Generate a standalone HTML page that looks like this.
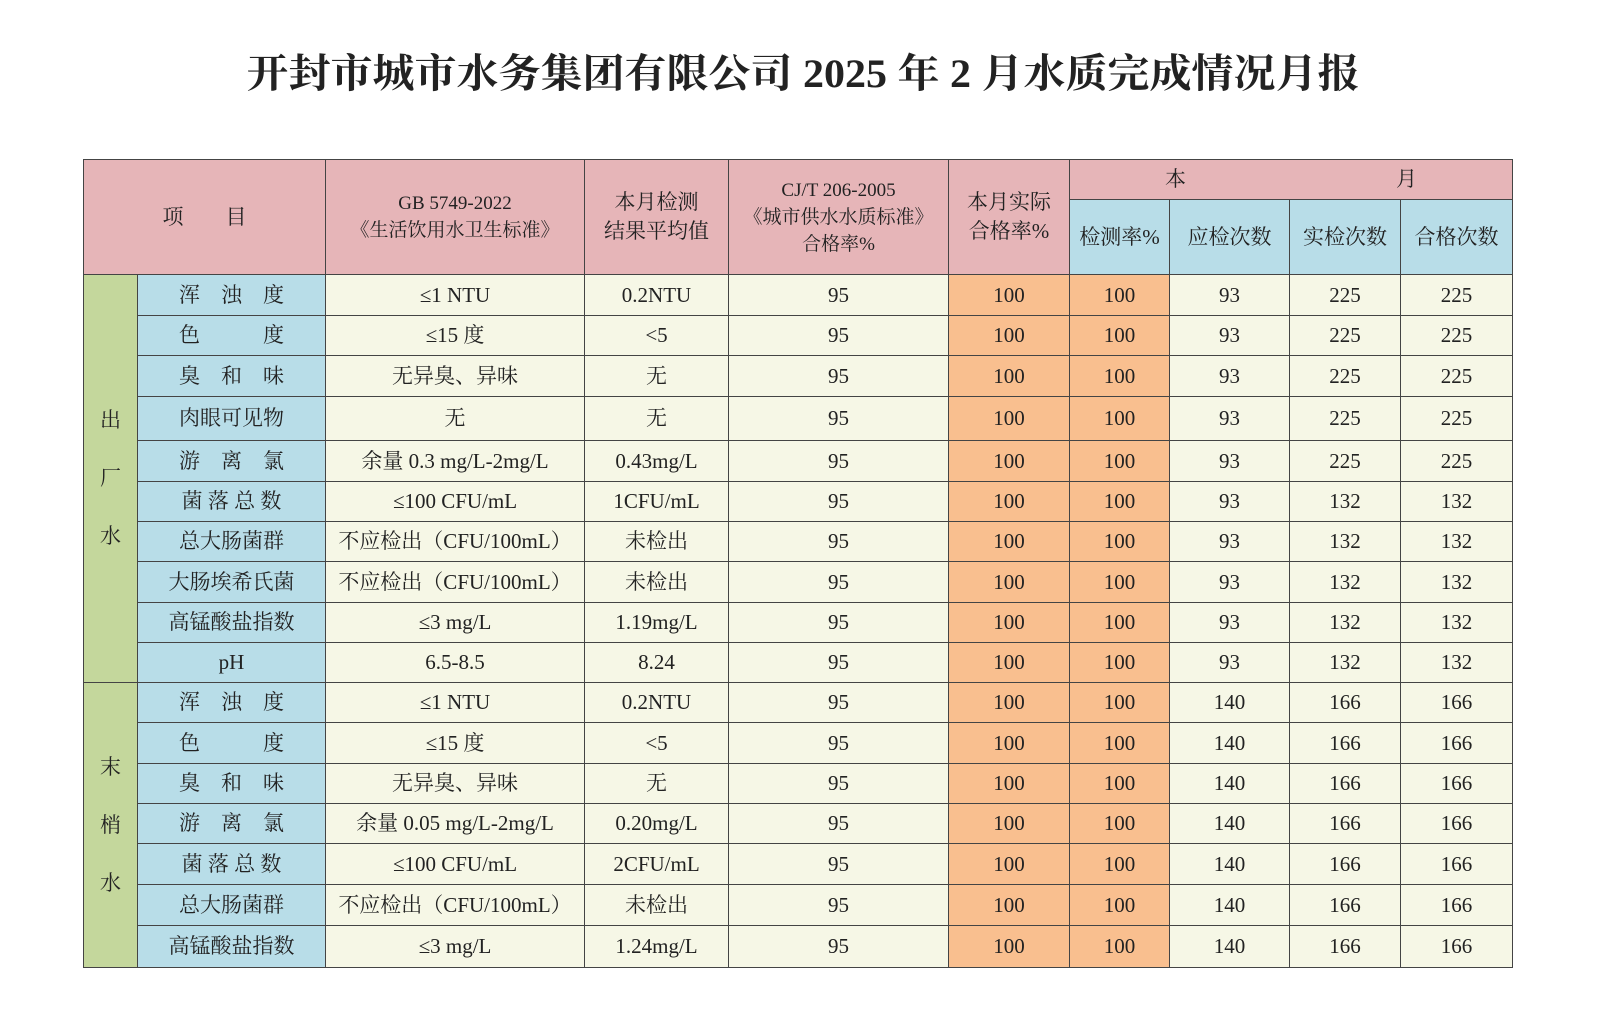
<!DOCTYPE html>
<html><head><meta charset="utf-8"><style>
body{margin:0;width:1600px;height:1020px;background:#fff;position:relative;font-family:"Liberation Serif","Noto Serif CJK SC","Noto Sans CJK SC",serif;color:#222;overflow:hidden}
h1{position:absolute;top:46px;left:0;width:1606px;text-align:center;margin:0;font-size:40px;font-weight:bold;line-height:56px;transform:scaleX(1.05);transform-origin:803px 0}
table{position:absolute;left:83px;top:159px;border-collapse:collapse;table-layout:fixed;width:1429px}
td{border:1px solid #444;text-align:center;font-size:21px;padding:0;line-height:25px;background:#f6f7e6}
.p{background:#e6b5b8}.b{background:#b8dde8}.g{background:#c4d79c;line-height:29px}.o{background:#f9bf8f}
.h{font-size:21px;line-height:29px}
.s{font-size:19px;line-height:27px}
</style></head><body>
<h1>开封市城市水务集团有限公司 2025 年 2 月水质完成情况月报</h1>
<table>
<colgroup><col style="width:54px"><col style="width:188px"><col style="width:259px"><col style="width:144px"><col style="width:220px"><col style="width:121px"><col style="width:100px"><col style="width:120px"><col style="width:111px"><col style="width:112px"></colgroup>
<tr style="height:40px"><td class="p" colspan="2" rowspan="2">项&emsp;&emsp;目</td><td class="p s" rowspan="2">GB 5749-2022<br>《生活饮用水卫生标准》</td><td class="p h" rowspan="2">本月检测<br>结果平均值</td><td class="p s" rowspan="2">CJ/T 206-2005<br>《城市供水水质标准》<br>合格率%</td><td class="p h" rowspan="2">本月实际<br>合格率%</td><td class="p" colspan="4">本&emsp;&emsp;&emsp;&emsp;&emsp;&emsp;&emsp;&emsp;&emsp;&emsp;月</td></tr>
<tr style="height:75px"><td class="b">检测率%</td><td class="b">应检次数</td><td class="b">实检次数</td><td class="b">合格次数</td></tr>
<tr style="height:41px"><td class="g" rowspan="10">出<br><br>厂<br><br>水</td><td class="b">浑&emsp;浊&emsp;度</td><td>≤1 NTU</td><td>0.2NTU</td><td>95</td><td class="o">100</td><td class="o">100</td><td>93</td><td>225</td><td>225</td></tr>
<tr style="height:40px"><td class="b">色&emsp;&emsp;&emsp;度</td><td>≤15 度</td><td>&lt;5</td><td>95</td><td class="o">100</td><td class="o">100</td><td>93</td><td>225</td><td>225</td></tr>
<tr style="height:41px"><td class="b">臭&emsp;和&emsp;味</td><td>无异臭、异味</td><td>无</td><td>95</td><td class="o">100</td><td class="o">100</td><td>93</td><td>225</td><td>225</td></tr>
<tr style="height:44px"><td class="b">肉眼可见物</td><td>无</td><td>无</td><td>95</td><td class="o">100</td><td class="o">100</td><td>93</td><td>225</td><td>225</td></tr>
<tr style="height:41px"><td class="b">游&emsp;离&emsp;氯</td><td>余量 0.3 mg/L-2mg/L</td><td>0.43mg/L</td><td>95</td><td class="o">100</td><td class="o">100</td><td>93</td><td>225</td><td>225</td></tr>
<tr style="height:40px"><td class="b">菌 落 总 数</td><td>≤100 CFU/mL</td><td>1CFU/mL</td><td>95</td><td class="o">100</td><td class="o">100</td><td>93</td><td>132</td><td>132</td></tr>
<tr style="height:40px"><td class="b">总大肠菌群</td><td>不应检出（CFU/100mL）</td><td>未检出</td><td>95</td><td class="o">100</td><td class="o">100</td><td>93</td><td>132</td><td>132</td></tr>
<tr style="height:41px"><td class="b">大肠埃希氏菌</td><td>不应检出（CFU/100mL）</td><td>未检出</td><td>95</td><td class="o">100</td><td class="o">100</td><td>93</td><td>132</td><td>132</td></tr>
<tr style="height:40px"><td class="b">高锰酸盐指数</td><td>≤3 mg/L</td><td>1.19mg/L</td><td>95</td><td class="o">100</td><td class="o">100</td><td>93</td><td>132</td><td>132</td></tr>
<tr style="height:40px"><td class="b">pH</td><td>6.5-8.5</td><td>8.24</td><td>95</td><td class="o">100</td><td class="o">100</td><td>93</td><td>132</td><td>132</td></tr>
<tr style="height:40px"><td class="g" rowspan="7">末<br><br>梢<br><br>水</td><td class="b">浑&emsp;浊&emsp;度</td><td>≤1 NTU</td><td>0.2NTU</td><td>95</td><td class="o">100</td><td class="o">100</td><td>140</td><td>166</td><td>166</td></tr>
<tr style="height:41px"><td class="b">色&emsp;&emsp;&emsp;度</td><td>≤15 度</td><td>&lt;5</td><td>95</td><td class="o">100</td><td class="o">100</td><td>140</td><td>166</td><td>166</td></tr>
<tr style="height:40px"><td class="b">臭&emsp;和&emsp;味</td><td>无异臭、异味</td><td>无</td><td>95</td><td class="o">100</td><td class="o">100</td><td>140</td><td>166</td><td>166</td></tr>
<tr style="height:40px"><td class="b">游&emsp;离&emsp;氯</td><td>余量 0.05 mg/L-2mg/L</td><td>0.20mg/L</td><td>95</td><td class="o">100</td><td class="o">100</td><td>140</td><td>166</td><td>166</td></tr>
<tr style="height:41px"><td class="b">菌 落 总 数</td><td>≤100 CFU/mL</td><td>2CFU/mL</td><td>95</td><td class="o">100</td><td class="o">100</td><td>140</td><td>166</td><td>166</td></tr>
<tr style="height:41px"><td class="b">总大肠菌群</td><td>不应检出（CFU/100mL）</td><td>未检出</td><td>95</td><td class="o">100</td><td class="o">100</td><td>140</td><td>166</td><td>166</td></tr>
<tr style="height:42px"><td class="b">高锰酸盐指数</td><td>≤3 mg/L</td><td>1.24mg/L</td><td>95</td><td class="o">100</td><td class="o">100</td><td>140</td><td>166</td><td>166</td></tr>
</table>
</body></html>
